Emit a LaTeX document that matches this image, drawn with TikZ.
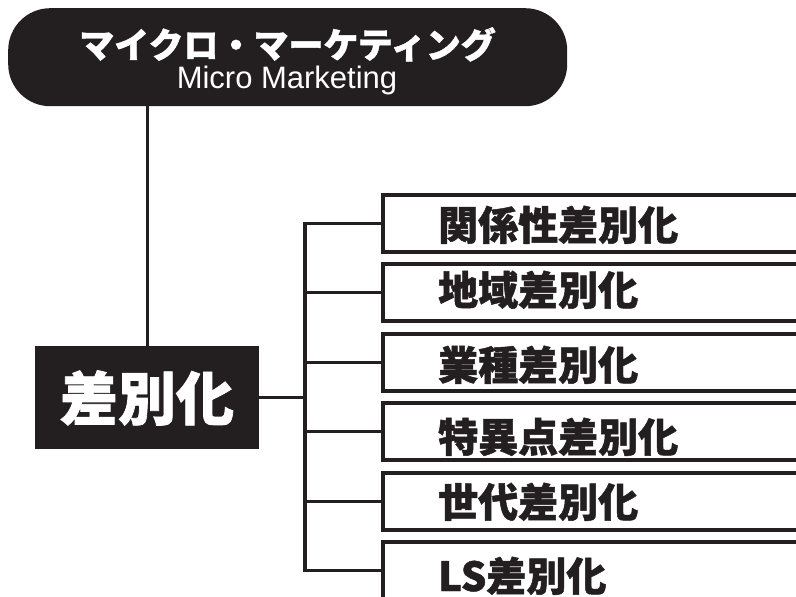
\documentclass[tikz,border=0pt]{standalone}
\usepackage{fontspec}
\setmainfont{Liberation Sans}
\newfontfamily\jp{Noto Sans CJK JP}[BoldFeatures={FakeBold=1.2}]
\definecolor{ink}{HTML}{231F20}
\begin{document}
\begin{tikzpicture}[x=1pt,y=-1pt,
  conn/.style={draw=ink,line width=3.2pt},
  subbox/.style={draw=ink,line width=3.8pt,fill=white,minimum width=470pt,minimum height=57pt,anchor=north west,inner sep=0pt},
  subtext/.style={anchor=base west,inner sep=0pt,text=ink,font=\jp\bfseries\fontsize{40}{40}\selectfont}]
\path[use as bounding box] (0,0) rectangle (796,597);
\clip (0,0) rectangle (796,597);
% top title box
\node[fill=ink,rounded corners=42pt,minimum width=559pt,minimum height=98pt,anchor=north west,inner sep=0pt] (top) at (8,8) {};
\node[anchor=base,inner sep=0pt,text=white,font=\jp\bfseries\fontsize{35}{35}\selectfont] (tt) at (287.5,58) {マイクロ・マーケティング};
\node[anchor=base,inner sep=0pt,text=white,font=\fontsize{31}{31}\selectfont] (ts) at (287,88) {Micro Marketing};
% main box
\node[fill=ink,minimum width=224pt,minimum height=103pt,anchor=north west,inner sep=0pt] (main) at (35,346) {};
\node[anchor=base,inner sep=0pt,text=white,font=\jp\bfseries\fontsize{58}{58}\selectfont] (mt) at (147,420) {差別化};
% sub boxes
\node[subbox] (b1) at (381,193) {};
\node[subbox] (b2) at (381,262) {};
\node[subbox] (b3) at (381,332) {};
\node[subbox] (b4) at (381,401) {};
\node[subbox] (b5) at (381,471) {};
\node[subbox] (b6) at (381,540) {};
\node[subtext] (t1) at (438,240) {関係性差別化};
\node[subtext] (t2) at (438,305) {地域差別化};
\node[subtext] (t3) at (438,380) {業種差別化};
\node[subtext] (t4) at (438,452) {特異点差別化};
\node[subtext] (t5) at (438,517) {世代差別化};
\node[subtext] (t6) at (438,591) {LS差別化};
% connectors
\coordinate (br) at (305,0);
\draw[conn] (main.north) -- (main.north |- top.south);
\draw[conn] (main.east) -- (main.east -| br);
\draw[conn] ([yshift=1.6pt]b1.west -| br) -- ([yshift=-1.6pt]b6.west -| br);
\foreach \b in {b1,b2,b3,b4,b5,b6}{
  \draw[conn] (\b.west -| br) -- (\b.west);
}
\end{tikzpicture}
\end{document}
